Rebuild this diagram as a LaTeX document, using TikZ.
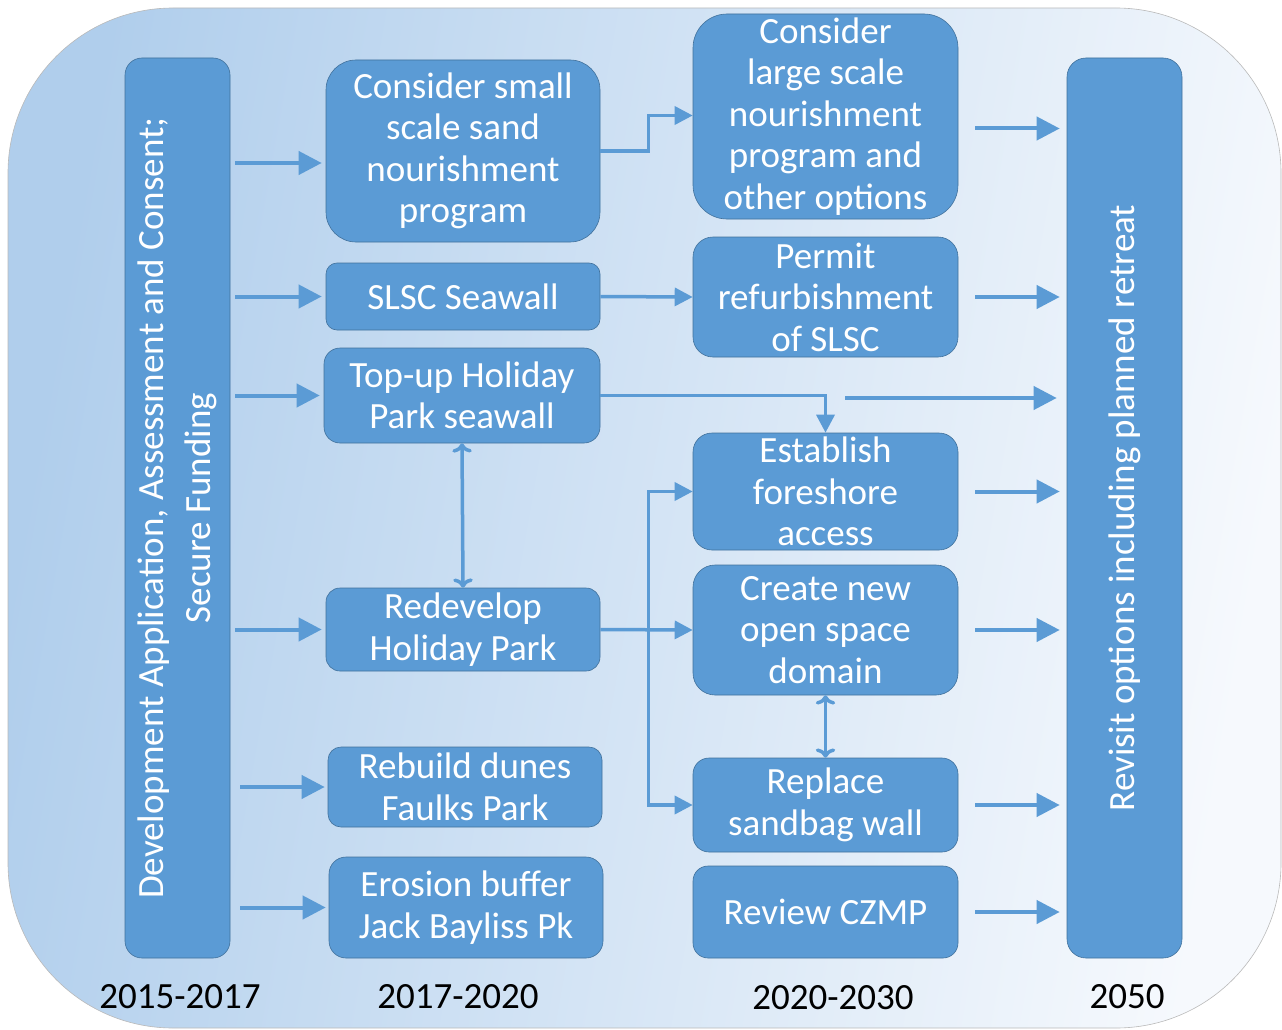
\documentclass[tikz,border=0pt]{standalone}
\usepackage{fontspec}
\setmainfont{Carlito}
\usetikzlibrary{arrows.meta,shapes}

\definecolor{boxblue}{RGB}{91,155,213}
\definecolor{boxedge}{RGB}{65,113,156}
\definecolor{bgleft}{RGB}{176,206,236}
\definecolor{bgright}{RGB}{246,249,253}

\begin{document}
\begin{tikzpicture}[x=1pt, y=-1pt, semithick]
	\tikzstyle{action}=[draw=boxedge, fill=boxblue, text=white, align=center, inner sep=0pt, font=\fontsize{37}{41.5}\selectfont]
	\tikzstyle{phase}=[action, rotate=90, font=\fontsize{37}{47}\selectfont]
	\tikzstyle{flow}=[-{Triangle[length=23pt,width=23pt]}, draw=boxblue, line width=4pt]
	\tikzstyle{link}=[-{Triangle[length=18pt,width=18pt]}, draw=boxblue, line width=3.5pt]
	\tikzstyle{year}=[font=\fontsize{37}{40}\selectfont, text=black]

	\useasboundingbox (0,0) rectangle (1282,1030);
	\shade[draw=gray!55, rounded corners=165pt, left color=bgleft, right color=bgright, shading angle=80] (8,8) rectangle (1281,1028);

	% long phase bars
	\node[phase, minimum width=900, minimum height=105, rounded corners=17pt] (LEFT) at (177.5,508) {Development Application, Assessment and Consent;\\ Secure Funding};
	\node[phase, minimum width=900, minimum height=115, rounded corners=19pt] (RIGHT) at (1124.5,508) {Revisit options including planned retreat};

	% 2017-2020
	\node[action, minimum width=274, minimum height=182, rounded corners=30pt] (SMALL) at (463,151) {Consider small\\ scale sand\\ nourishment\\ program};
	\node[action, minimum width=274, minimum height=67, rounded corners=11pt] (SLSC) at (463,296.5) {SLSC Seawall};
	\node[action, minimum width=276, minimum height=95, rounded corners=16pt] (TOPUP) at (462,395.5) {Top-up Holiday\\ Park seawall};
	\node[action, minimum width=274, minimum height=83, rounded corners=14pt] (REDEV) at (463,629.5) {Redevelop\\ Holiday Park};
	\node[action, minimum width=274, minimum height=80, rounded corners=13pt] (DUNES) at (465,787) {Rebuild dunes\\ Faulks Park};
	\node[action, minimum width=274, minimum height=101, rounded corners=17pt] (BUFFER) at (466,907.5) {Erosion buffer\\ Jack Bayliss Pk};

	% 2020-2030
	\node[action, minimum width=265, minimum height=205, rounded corners=34pt] (LARGE) at (825.5,116.5) {Consider\\ large scale\\ nourishment\\ program and\\ other options};
	\node[action, minimum width=265, minimum height=120, rounded corners=20pt] (PERMIT) at (825.5,297) {Permit\\ refurbishment\\ of SLSC};
	\node[action, minimum width=265, minimum height=117, rounded corners=19pt] (ACCESS) at (825.5,491.5) {Establish\\ foreshore\\ access};
	\node[action, minimum width=265, minimum height=130, rounded corners=22pt] (OPEN) at (825.5,630) {Create new\\ open space\\ domain};
	\node[action, minimum width=265, minimum height=94, rounded corners=16pt] (SANDBAG) at (825.5,805) {Replace\\ sandbag wall};
	\node[action, minimum width=265, minimum height=92, rounded corners=15pt] (CZMP) at (825.5,912) {Review CZMP};

	% time line
	\node[year] (Y1) at (180,997) {2015-2017};
	\node[year] (Y2) at (458,997) {2017-2020};
	\node[year] (Y3) at (833,998) {2020-2030};
	\node[year] (Y4) at (1127,997) {2050};

	% out of the first phase
	\path ([xshift=5pt,yshift=-12pt]LEFT.south |- SMALL.west) edge[flow, shorten >=4pt] ([yshift=-12pt]SMALL.west);
	\path ([xshift=5pt]LEFT.south |- SLSC.west) edge[flow, shorten >=4pt] (SLSC.west);
	\path ([xshift=5pt]LEFT.south |- TOPUP.west) edge[flow, shorten >=4pt] (TOPUP.west);
	\path ([xshift=5pt]LEFT.south |- REDEV.west) edge[flow, shorten >=4pt] (REDEV.west);
	\path ([xshift=10pt]LEFT.south |- DUNES.west) edge[flow, shorten >=3pt] (DUNES.west);
	\path ([xshift=10pt]LEFT.south |- BUFFER.west) edge[flow, shorten >=3pt] (BUFFER.west);

	% 2017-2020 to 2020-2030
	\draw[link] (SMALL.east) -- ++(48,0) |- ([yshift=1pt]LARGE.west);
	\path (SLSC.east) edge[link] (PERMIT.west);
	\draw[link] (TOPUP.east) -| (ACCESS.north);
	\coordinate (FORK) at ([xshift=48pt]REDEV.east);
	\draw[link] (REDEV.east) -- (OPEN.west);
	\draw[link] (FORK) |- (ACCESS.west);
	\draw[link] (FORK) |- (SANDBAG.west);
	\path (TOPUP.south) edge[link, <->] (REDEV.north);
	\path (OPEN.south) edge[link, <->] (SANDBAG.north);

	% into the last phase
	\coordinate (GAP) at (845,398);
	\path ([xshift=17pt,yshift=-12pt]LARGE.east) edge[flow, shorten >=7pt] ([yshift=-12pt]LARGE.east -| RIGHT.north);
	\path ([xshift=17pt]PERMIT.east) edge[flow, shorten >=7pt] (PERMIT.east -| RIGHT.north);
	\path (GAP) edge[flow, shorten >=10pt] (GAP -| RIGHT.north);
	\path ([xshift=17pt]ACCESS.east) edge[flow, shorten >=7pt] (ACCESS.east -| RIGHT.north);
	\path ([xshift=17pt]OPEN.east) edge[flow, shorten >=7pt] (OPEN.east -| RIGHT.north);
	\path ([xshift=17pt]SANDBAG.east) edge[flow, shorten >=7pt] (SANDBAG.east -| RIGHT.north);
	\path ([xshift=17pt]CZMP.east) edge[flow, shorten >=7pt] (CZMP.east -| RIGHT.north);
\end{tikzpicture}
\end{document}
